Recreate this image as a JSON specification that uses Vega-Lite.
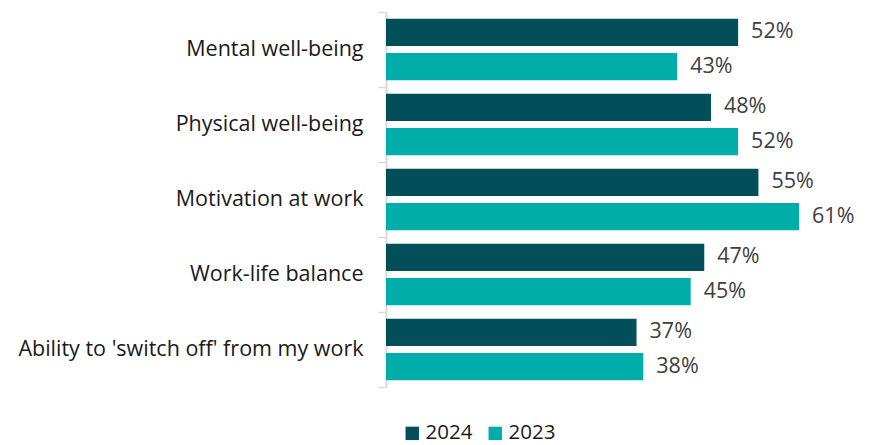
{
  "$schema": "https://vega.github.io/schema/vega-lite/v6.json",
  "autosize": {"type": "none"},
  "width": 474,
  "height": 375,
  "padding": {"left": 386, "top": 12, "right": 9, "bottom": 58},
  "background": "white",
  "config": {"view": {"stroke": null}, "font": "Open Sans"},
  "data": {"values": [
    {"cat": "Mental well-being", "year": "2024", "v": 0.52},
    {"cat": "Mental well-being", "year": "2023", "v": 0.43},
    {"cat": "Physical well-being", "year": "2024", "v": 0.48},
    {"cat": "Physical well-being", "year": "2023", "v": 0.52},
    {"cat": "Motivation at work", "year": "2024", "v": 0.55},
    {"cat": "Motivation at work", "year": "2023", "v": 0.61},
    {"cat": "Work-life balance", "year": "2024", "v": 0.47},
    {"cat": "Work-life balance", "year": "2023", "v": 0.45},
    {"cat": "Ability to 'switch off' from my work", "year": "2024", "v": 0.37},
    {"cat": "Ability to 'switch off' from my work", "year": "2023", "v": 0.38}
  ]},
  "encoding": {
    "y": {"field": "cat", "type": "nominal", "sort": null,
      "scale": {"paddingInner": 0, "paddingOuter": 0},
      "axis": {"title": null, "domainColor": "#D9D9D9", "domainWidth": 2, "tickColor": "#D9D9D9", "tickWidth": 1.5, "tickSize": 8, "tickBand": "extent", "labelFontSize": 21.5, "labelColor": "#1a1a1a", "labelPadding": 15, "labelFont": "Open Sans", "labelLimit": 400}},
    "yOffset": {"field": "year", "type": "nominal", "sort": ["2024", "2023"], "scale": {"paddingInner": 0.2, "paddingOuter": 0.2}},
    "x": {"field": "v", "type": "quantitative", "scale": {"domain": [0, 0.7], "nice": false}, "axis": null}
  },
  "layer": [
    {"mark": {"type": "bar"},
     "encoding": {"color": {"field": "year", "type": "nominal", "sort": ["2024", "2023"],
        "scale": {"domain": ["2024", "2023"], "range": ["#034F59", "#00ADA8"]},
        "legend": {"title": null, "orient": "none", "legendX": 16, "legendY": 411, "direction": "horizontal", "symbolType": "square", "symbolSize": 180, "symbolStrokeWidth": 0, "labelFontSize": 20.5, "labelColor": "#1a1a1a", "labelFont": "Open Sans", "columnPadding": 12, "labelOffset": 3}}}},
    {"mark": {"type": "text", "align": "left", "baseline": "middle", "dx": 13, "fontSize": 21.5, "color": "#404040"},
     "encoding": {"text": {"field": "v", "type": "quantitative", "format": ".0%"}, "detail": {"field": "year"}}}
  ]
}
